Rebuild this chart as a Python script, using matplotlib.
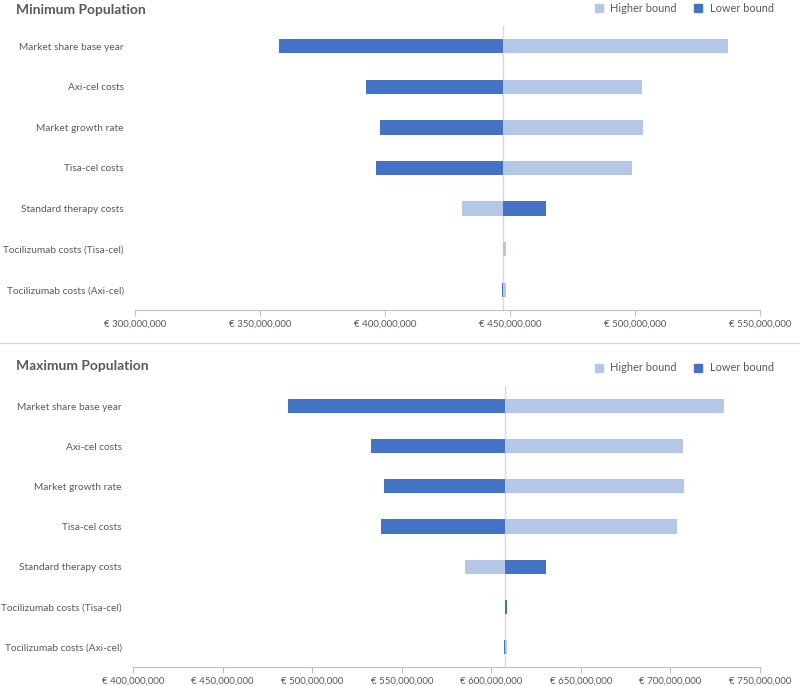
import matplotlib.pyplot as plt
from matplotlib.lines import Line2D
from matplotlib.ticker import FuncFormatter

# parametros del tornado
categorias = ["Market share base year", "Axi-cel costs", "Market growth rate", "Tisa-cel costs",
              "Standard therapy costs", "Tocilizumab costs (Tisa-cel)", "Tocilizumab costs (Axi-cel)"]

# poblacion minima (millones de euros)
base_min = 447.2
lower_min = [357.6, 392.4, 398.0, 396.4, 464.4, 447.0, 446.9]
higher_min = [537.2, 502.8, 503.2, 498.8, 430.8, 448.3, 448.2]
ticks_min = [300, 350, 400, 450, 500, 550]

# poblacion maxima
base_max = 607.7
lower_max = [486.5, 532.9, 540.2, 538.5, 630.7, 608.6, 607.0]
higher_max = [730.0, 707.1, 707.6, 703.7, 585.4, 607.5, 608.9]
ticks_max = [400, 450, 500, 550, 600, 650, 700, 750]

oscuro = "#4472C4"
claro = "#B4C7E7"
gris = "#595959"

plt.rcParams["font.family"] = ["Lato", "DejaVu Sans"]

fig = plt.figure(figsize=(8, 6.86), dpi=100)


def tornado(ax, base, lower, higher, ticks, titulo, dy_titulo):
    y = list(range(len(categorias)))
    ax.barh(y, [h - base for h in higher], left=base, height=0.35, color=claro, label="Higher bound")
    ax.barh(y, [l - base for l in lower], left=base, height=0.35, color=oscuro, label="Lower bound")
    ax.axvline(base, color="#D9D9D9", lw=1, zorder=0)
    ax.set_ylim(len(categorias) - 0.5, -0.5)
    ax.set_xlim(ticks[0], ticks[-1])
    ax.set_xticks(ticks)
    ax.xaxis.set_major_formatter(FuncFormatter(lambda v, p: "€ {:,.0f}".format(v * 1e6)))
    ax.set_yticks(y)
    ax.set_yticklabels(categorias)
    ax.tick_params(axis="y", length=0, pad=8, labelsize=7.3, labelcolor=gris)
    ax.tick_params(axis="x", length=4, color="#BFBFBF", pad=3, labelsize=7, labelcolor=gris)
    for s in ["top", "right", "left"]:
        ax.spines[s].set_visible(False)
    ax.spines["bottom"].set_color("#BFBFBF")
    top = ax.get_position().y1
    fig.text(16 / 800, top + dy_titulo / 686, titulo, fontsize=10, fontweight="bold",
             color=gris, va="center", ha="left")
    handles = [Line2D([], [], marker="s", ls="", color=claro, markersize=6),
               Line2D([], [], marker="s", ls="", color=oscuro, markersize=6)]
    fig.legend(handles, ["Higher bound", "Lower bound"], ncol=2, frameon=False, fontsize=7.9,
               labelcolor=gris, loc="center right", bbox_to_anchor=(774 / 800, top + 18 / 686),
               handletextpad=0.05, columnspacing=1.0, borderaxespad=0, borderpad=0)


ax1 = fig.add_axes([135 / 800, 1 - 310 / 686, 625 / 800, 284 / 686])
tornado(ax1, base_min, lower_min, higher_min, ticks_min, "Minimum Population", 16)

ax2 = fig.add_axes([133 / 800, 1 - 667 / 686, 627 / 800, 281 / 686])
tornado(ax2, base_max, lower_max, higher_max, ticks_max, "Maximum Population", 20)

fig.add_artist(Line2D([0, 1], [1 - 343 / 686, 1 - 343 / 686], color="#D9D9D9", lw=1))

fig.savefig("out.png", dpi=100)
